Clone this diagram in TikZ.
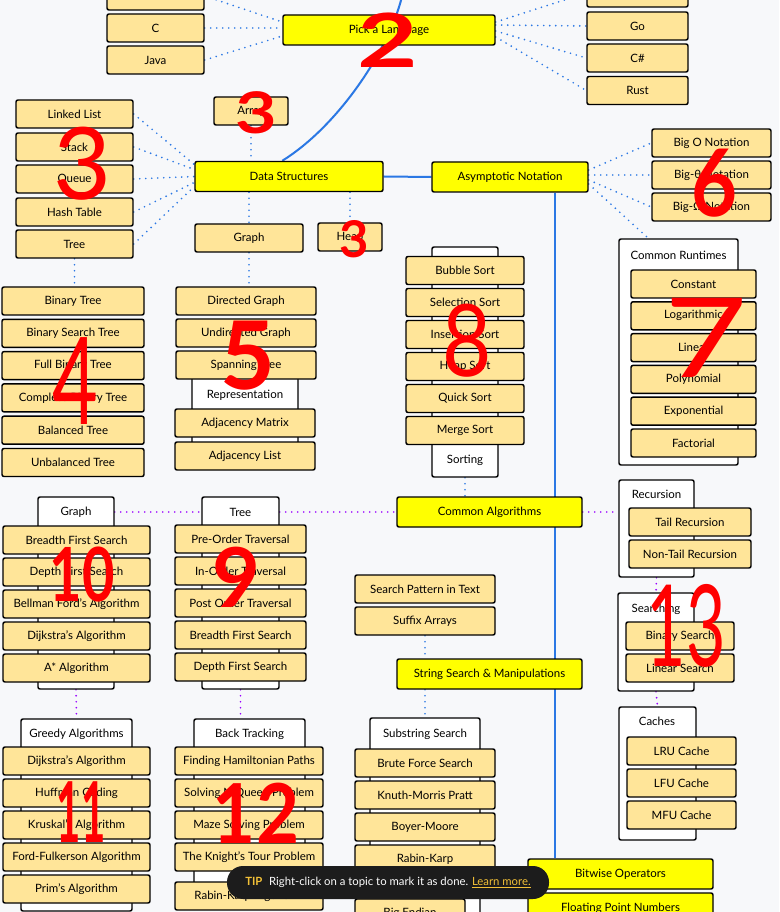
\documentclass[tikz,border=0pt]{standalone}
\usepackage{fontspec}
\setmainfont{Lato}
\usetikzlibrary{calc,backgrounds}
\definecolor{bg}{HTML}{F7F8FA}
\definecolor{itemfill}{HTML}{FFE599}
\definecolor{topicfill}{HTML}{FFFF00}
\definecolor{linkblue}{HTML}{2B78E4}
\definecolor{linkpurple}{HTML}{9900FF}
\definecolor{tipbg}{HTML}{1C1C1C}
\definecolor{tipyellow}{HTML}{F2C037}
\tikzset{
  basebox/.style={draw, rounded corners=1.5pt, line width=1.1pt, inner sep=0pt, minimum height=21pt, font=\fontsize{8.6}{10}\selectfont},
  item/.style={basebox, fill=itemfill},
  topic/.style={basebox, fill=topicfill, minimum height=22.5pt},
  groupbox/.style={basebox, fill=white},
  glabel/.style={inner sep=0pt, font=\fontsize{8.6}{10}\selectfont},
  wd/.style={minimum width=#1*0.75pt},
  ht/.style={minimum height=#1*0.75pt},
  bdots/.style={linkblue, line width=1.4pt, line cap=round, dash pattern=on 0pt off 4.5pt},
  pdots/.style={bdots, linkpurple},
  mainline/.style={linkblue, line width=1.5pt},
  rednum/.style={text=red, inner sep=0pt, font=\bfseries\fontsize{#1}{#1}\selectfont},
  rednumlight/.style={text=red, inner sep=0pt, font=\fontsize{#1}{#1}\selectfont},
  tip/.style={fill=tipbg, text=white, rounded corners=12pt, inner sep=0pt, minimum width=322*0.75pt, minimum height=33*0.75pt, font=\fontsize{8.5}{10}\selectfont}
}
\begin{document}
\begin{tikzpicture}[x=0.75pt,y=-0.75pt]
\useasboundingbox (0,0) rectangle (779,912);
\coordinate (top) at (403,-8);
\coordinate (spinex) at (555,0);

\node[item, wd=97] (lang0) at (155.5,-4) {};
\node[item, wd=97] (c) at (155.5,28) {C};
\node[item, wd=97] (java) at (155.5,60) {Java};
\node[topic, wd=212] (pick) at (389,30) {Pick a Language};
\node[item, wd=101] (lang1) at (637.5,-7) {};
\node[item, wd=101] (go) at (637.5,26) {Go};
\node[item, wd=101] (csharp) at (637.5,58) {C\#};
\node[item, wd=101] (rust) at (637.5,90.5) {Rust};

\node[topic, wd=188] (ds) at (289,176.5) {Data Structures};
\node[item, wd=117] (llist) at (74.5,114) {Linked List};
\node[item, wd=117] (stack) at (74.5,147) {Stack};
\node[item, wd=117] (queue) at (74.5,179) {Queue};
\node[item, wd=117] (hash) at (74.5,212) {Hash Table};
\node[item, wd=117] (dstree) at (74.5,244) {Tree};
\node[item, wd=74] (array) at (251,111) {Array};
\node[item, wd=108] (dsgraph) at (249,238) {Graph};
\node[item, wd=64] (heap) at (350,237) {Heap};

\foreach \t [count=\i] in {Binary Tree, Binary Search Tree, Full Binary Tree, Complete Binary Tree, Balanced Tree, Unbalanced Tree}
  \node[item, wd=142] (bt\i) at (73,268.7+32.3*\i) {\t};

\node[groupbox, wd=106, ht=75] (repbox) at (245,412.5) {};
\node[glabel] (replbl) at (245,395) {Representation};
\foreach \t [count=\i] in {Directed Graph, Undirected Graph, Spanning Tree}
  \node[item, wd=140] (dg\i) at (246,269+32*\i) {\t};
\node[item, wd=140] (adjm) at (245,423) {Adjacency Matrix};
\node[item, wd=140] (adjl) at (245,456) {Adjacency List};

\node[topic, wd=156] (asym) at (510,177) {Asymptotic Notation};
\foreach \t [count=\i] in {Big O Notation, Big-θ Notation, Big-Ω Notation}
  \node[item, wd=119] (big\i) at (711.5,111+32*\i) {\t};

\node[groupbox, wd=119, ht=226] (runbox) at (678.5,352) {};
\node[glabel] (runlbl) at (678.5,255) {Common Runtimes};
\foreach \t [count=\i] in {Constant, Logarithmic, Linear, Polynomial, Exponential, Factorial}
  \node[item, wd=125] (rt\i) at (693.5,252.2+31.8*\i) {\t};

\node[groupbox, wd=66, ht=230] (sortbox) at (465,362) {};
\node[glabel] (sortlbl) at (465,460) {Sorting};
\foreach \t [count=\i] in {Bubble Sort, Selection Sort, Insertion Sort, Heap Sort, Quick Sort, Merge Sort}
  \node[item, wd=118] (sort\i) at (465,238.5+32*\i) {\t};

\node[topic, wd=185] (algo) at (489.5,512) {Common Algorithms};
\node[groupbox, wd=76, ht=192] (agbox) at (76,593) {};
\node[glabel] (aglbl) at (76,512) {Graph};
\foreach \t [count=\i] in {Breadth First Search, Depth First Search, Bellman Ford's Algorithm, Dijkstra's Algorithm, A* Algorithm}
  \node[item, wd=147] (ag\i) at (76.5,508+32*\i) {\t};
\node[groupbox, wd=77, ht=192] (atbox) at (240.5,593) {};
\node[glabel] (atlbl) at (240.5,512) {Tree};
\foreach \t [count=\i] in {Pre-Order Traversal, In-Order Traversal, Post Order Traversal, Breadth First Search, Depth First Search}
  \node[item, wd=131] (at\i) at (240.5,507+32*\i) {\t};

\node[groupbox, wd=75, ht=97] (recbox) at (656.5,528.5) {};
\node[glabel] (reclbl) at (656.5,494) {Recursion};
\node[item, wd=122] (tail) at (690,522) {Tail Recursion};
\node[item, wd=122] (nontail) at (690,554) {Non-Tail Recursion};
\node[groupbox, wd=76, ht=98] (srchbox) at (656,642) {};
\node[glabel] (srchlbl) at (656,609) {Searching};
\node[item, wd=108] (binsrch) at (680,636) {Binary Search};
\node[item, wd=108] (linsrch) at (680,668) {Linear Search};
\node[groupbox, wd=77, ht=133] (cachebox) at (657.5,773.5) {};
\node[glabel] (cachelbl) at (657,721) {Caches};
\foreach \t [count=\i] in {LRU Cache, LFU Cache, MFU Cache}
  \node[item, wd=109] (cache\i) at (681.5,719+32*\i) {\t};

\node[item, wd=140] (pattern) at (425,589) {Search Pattern in Text};
\node[item, wd=140] (suffix) at (425,621) {Suffix Arrays};
\node[topic, wd=185] (strings) at (489.5,674) {String Search \& Manipulations};
\node[groupbox, wd=110, ht=222] (subbox) at (425,829) {};
\node[glabel] (sublbl) at (425,734) {Substring Search};
\foreach \t [count=\i] in {Brute Force Search, Knuth-Morris Pratt, Boyer-Moore, Rabin-Karp}
  \node[item, wd=140] (sub\i) at (425,731+32*\i) {\t};
\node[item, wd=110] (endian) at (410,913) {Big Endian};

\node[groupbox, wd=111, ht=192] (greedybox) at (76.5,815) {};
\node[glabel] (greedylbl) at (76.5,734) {Greedy Algorithms};
\foreach \t [count=\i] in {Dijkstra's Algorithm, Huffman Coding, Kruskal's Algorithm, Ford-Fulkerson Algorithm, Prim's Algorithm}
  \node[item, wd=147] (gr\i) at (76.5,729+32*\i) {\t};

\node[groupbox, wd=111, ht=176] (btbox) at (249.5,807) {};
\node[glabel] (btlbl) at (249.5,734) {Back Tracking};
\foreach \t [count=\i] in {Finding Hamiltonian Paths, Solving N Queen Problem, Maze Solving Problem, The Knight's Tour Problem}
  \node[item, wd=148] (bk\i) at (249,729+32*\i) {\t};
\node[item, wd=148] (rabin) at (249,896) {Rabin-Karp Algorithm};

\node[topic, wd=185] (bitwise) at (620.5,874) {Bitwise Operators};
\node[topic, wd=185] (float) at (620.5,908) {Floating Point Numbers};

\begin{pgfonlayer}{background}
\fill[bg] (0,0) rectangle (779,912);
\draw[mainline] (ds.east) -- (asym.west);
\draw[mainline] (spinex |- asym.south) -- (spinex |- bitwise.north);
\draw[mainline] ($(ds.north west)+(88,0)$) .. controls (340,125) and (392,45) .. (top);
\draw[bdots] (lang0.east) -- ($(pick.west)+(0,-8)$);
\draw[bdots] (c.east) -- ($(pick.west)+(0,-2)$);
\draw[bdots] (java.east) -- ($(pick.west)+(0,6)$);
\draw[bdots] ($(pick.east)+(0,-8)$) -- (lang1.west);
\draw[bdots] ($(pick.east)+(0,-5)$) -- (go.west);
\draw[bdots] ($(pick.east)+(0,1)$) -- (csharp.west);
\draw[bdots] ($(pick.east)+(0,7)$) -- (rust.west);
\draw[bdots] (llist.east) -- ($(ds.west)+(0,-12)$);
\draw[bdots] (stack.east) -- ($(ds.west)+(0,-7)$);
\draw[bdots] (queue.east) -- (ds.west);
\draw[bdots] (hash.east) -- ($(ds.west)+(0,6)$);
\draw[bdots] (dstree.east) -- ($(ds.west)+(0,10)$);
\draw[bdots] (array.south) -- (array.south |- ds.north);
\draw[bdots] (dsgraph.north |- ds.south) -- (dsgraph.north);
\draw[bdots] (heap.north |- ds.south) -- (heap.north);
\draw[bdots] (dstree.south) -- (dstree.south |- bt1.north);
\draw[bdots] (dsgraph.south) -- (dsgraph.south |- dg1.north);
\draw[bdots] ($(asym.east)+(0,-7)$) -- (big1.west);
\draw[bdots] ($(asym.east)+(0,-2)$) -- (big2.west);
\draw[bdots] ($(asym.east)+(0,3)$) -- (big3.west);
\draw[bdots] ($(asym.east)+(0,7)$) -- ($(runbox.north west)+(30,0)$);
\draw[bdots] (sortbox.south) -- (sortbox.south |- algo.north);
\draw[bdots] (suffix.south) -- (suffix.south |- strings.north);
\draw[bdots] (subbox.north |- strings.south) -- (subbox.north);
\draw[pdots] (agbox.east |- algo.center) -- (atbox.west |- algo.center);
\draw[pdots] (atbox.east |- algo.center) -- (algo.west);
\draw[pdots] (algo.east) -- (recbox.west |- algo.center);
\draw[pdots] (agbox.south) -- (greedybox.north);
\draw[pdots] (atbox.south) -- (atbox.south |- btbox.north);
\draw[pdots] (recbox.south) -- (srchbox.north);
\draw[pdots] (srchbox.south) -- (cachebox.north);
\end{pgfonlayer}

\node[rednum=56, xscale=1.4] (n2) at (388,40) {2};
\node[rednum=43, xscale=1.25] (n3a) at (256,113) {3};
\node[rednumlight=75] (n3b) at (82,164) {3};
\node[rednum=38] (n3c) at (354,239) {3};
\node[rednum=70, xscale=0.85] (n6) at (714,183) {6};
\node[rednumlight=91, xscale=0.65] (n4) at (75,381) {4};
\node[rednum=71] (n5) at (248,356) {5};
\node[rednumlight=83, xscale=1.3] (n7) at (706,338) {7};
\node[rednumlight=75, xscale=0.85] (n8) at (467,341) {8};
\node[rednum=56, xscale=0.75] (n10) at (82,575) {10};
\node[rednum=62] (n9) at (236,577) {9};
\node[rednumlight=85, xscale=0.6] (n13) at (686,626) {13};
\node[rednum=63, xscale=0.5] (n11) at (81,812) {11};
\node[rednum=62, xscale=0.9] (n12) at (256,813) {12};

\node[tip] (tipbox) at (388,882.5) {\textcolor{tipyellow}{\bfseries TIP}\hspace{5pt}Right-click on a topic to mark it as done. \textcolor{tipyellow}{\underline{Learn more.}}};
\end{tikzpicture}
\end{document}
